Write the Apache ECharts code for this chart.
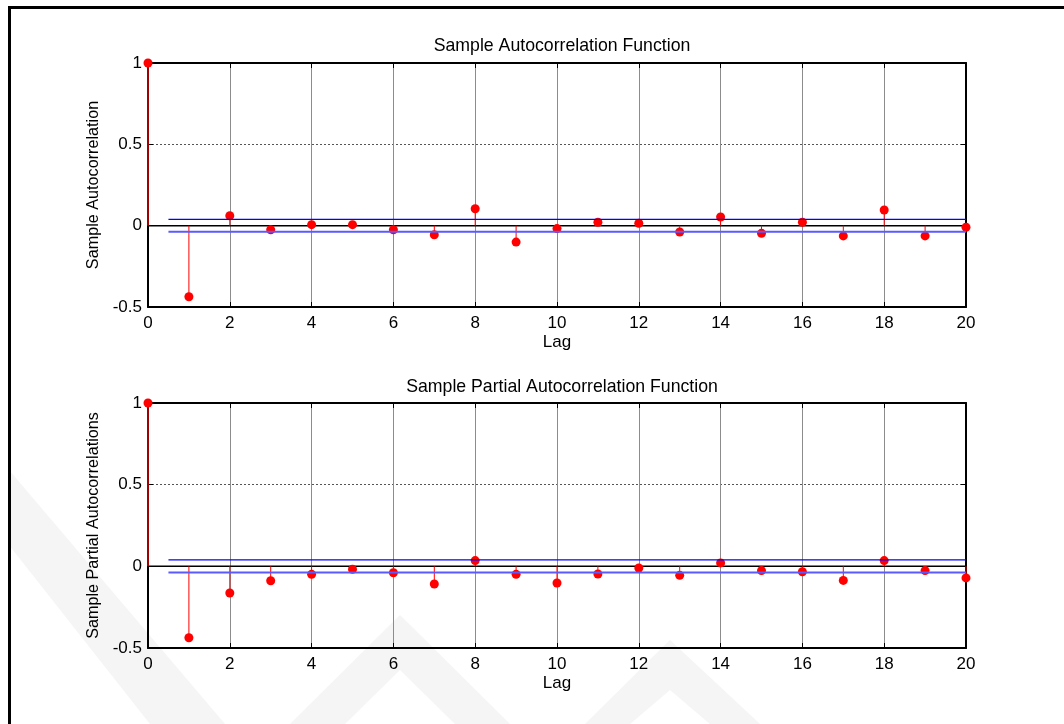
<!DOCTYPE html>
<html>
<head>
<meta charset="utf-8">
<title>ACF / PACF</title>
<script src="https://cdn.jsdelivr.net/npm/echarts@6/dist/echarts.min.js"></script>
<style>
  html, body { margin: 0; padding: 0; background: #fff; }
  #main { width: 1064px; height: 724px; }
</style>
</head>
<body>
<div id="main"></div>
<script>
var lags = [0, 1, 2, 3, 4, 5, 6, 7, 8, 9, 10, 11, 12, 13, 14, 15, 16, 17, 18, 19, 20];
var acf = [1, -0.437, 0.061, -0.025, 0.006, 0.006, -0.025, -0.056, 0.104, -0.101, -0.018,
           0.021, 0.015, -0.039, 0.053, -0.047, 0.021, -0.063, 0.096, -0.063, -0.010];
var pacf = [1, -0.437, -0.163, -0.088, -0.049, -0.018, -0.039, -0.108, 0.035, -0.049, -0.102,
            -0.047, -0.010, -0.055, 0.021, -0.026, -0.033, -0.086, 0.035, -0.026, -0.071];
var boundUp = 0.039;
var boundLo = -0.037;
var boundFrom = 0.5;
var boundTo = 20;
var baseLevel = 0;
var xMin = 0, xMax = 20, xStep = 2;
var yMin = -0.5, yMax = 1, yStep = 0.5;
var titles = ['Sample Autocorrelation Function', 'Sample Partial Autocorrelation Function'];
var yNames = ['Sample Autocorrelation', 'Sample Partial Autocorrelations'];

var FONT = '"Liberation Sans", Arial, sans-serif';
var myChart = echarts.init(document.getElementById('main'));

function pairs(vals) {
    var out = [];
    for (var i = 0; i < lags.length; i++) {
        out.push([lags[i], vals[i]]);
    }
    return out;
}

// stem line from 0 to the value, lag 0 drawn darker like matlab
function stemItem(params, api) {
    var x = api.value(0);
    var p0 = api.coord([x, baseLevel]);
    var p1 = api.coord([x, api.value(1)]);
    return {
        type: 'line',
        shape: { x1: p0[0], y1: p0[1], x2: p1[0], y2: p1[1] },
        style: { stroke: x == 0 ? '#a00000' : '#ff0000', lineWidth: x == 0 ? 2 : 1 }
    };
}

function axisX(grid, mirror) {
    return {
        type: 'value', gridIndex: grid, min: xMin, max: xMax, interval: xStep,
        position: mirror ? 'top' : 'bottom',
        name: mirror ? '' : 'Lag', nameLocation: 'middle', nameGap: 27,
        nameTextStyle: { color: '#000', fontSize: 17, fontFamily: FONT },
        axisLine: { show: true, onZero: false, lineStyle: { color: '#000', width: 2 } },
        axisTick: { show: true, inside: true, length: 5, lineStyle: { color: '#000' } },
        axisLabel: { show: !mirror, color: '#000', fontSize: 17, fontFamily: FONT, margin: 8 },
        splitLine: { show: !mirror, lineStyle: { color: '#8c8c8c', width: 1 } }
    };
}
function axisY(grid, mirror) {
    return {
        type: 'value', gridIndex: grid, min: yMin, max: yMax, interval: yStep,
        position: mirror ? 'right' : 'left',
        name: mirror ? '' : yNames[grid], nameLocation: 'middle', nameGap: 46,
        nameTextStyle: { color: '#000', fontSize: 16.2, fontFamily: FONT },
        axisLine: { show: true, onZero: false, lineStyle: { color: '#000', width: 2 } },
        axisTick: { show: true, inside: true, length: 5, lineStyle: { color: '#000' } },
        axisLabel: { show: !mirror, color: '#000', fontSize: 17, fontFamily: FONT, margin: 6 },
        splitLine: { show: !mirror, lineStyle: { color: '#555', width: 1, type: [2, 2] } }
    };
}

function plotSeries(idx, vals) {
    var xi = idx * 2, yi = idx * 2;
    return [
        {
            type: 'line', xAxisIndex: xi, yAxisIndex: yi,
            data: [[xMin, baseLevel], [xMax, baseLevel]], symbol: 'none',
            lineStyle: { color: '#000', width: 1.5, opacity: 1 }, z: 2, silent: true
        },
        {
            type: 'custom', xAxisIndex: xi, yAxisIndex: yi,
            renderItem: stemItem, data: pairs(vals), z: 3, silent: true
        },
        {
            type: 'scatter', xAxisIndex: xi, yAxisIndex: yi,
            data: pairs(vals), symbol: 'circle', symbolSize: 9,
            itemStyle: { color: '#ff0000', opacity: 1 }, z: 4, silent: true
        },
        {
            type: 'line', xAxisIndex: xi, yAxisIndex: yi,
            data: [[boundFrom, boundUp], [boundTo, boundUp]], symbol: 'none',
            lineStyle: { color: '#0000ff', width: 1.2, opacity: 1 }, z: 5, silent: true
        },
        {
            type: 'line', xAxisIndex: xi, yAxisIndex: yi,
            data: [[boundFrom, boundLo], [boundTo, boundLo]], symbol: 'none',
            lineStyle: { color: '#5a5aff', width: 2, opacity: 1 }, z: 5, silent: true
        }
    ];
}

// faint watermark in the lower left
var wm = '#f5f5f5';
var option = {
    backgroundColor: '#fff',
    animation: false,
    title: [
        { text: titles[0], left: 557, top: 32, textAlign: 'center',
          textStyle: { color: '#000', fontSize: 17.7, fontWeight: 'normal', fontFamily: FONT } },
        { text: titles[1], left: 557, top: 373, textAlign: 'center',
          textStyle: { color: '#000', fontSize: 17.7, fontWeight: 'normal', fontFamily: FONT } }
    ],
    graphic: [
        { type: 'polygon', z: -10, silent: true,
          shape: { points: [[9, 470], [9, 545], [150, 724], [225, 724]] }, style: { fill: wm } },
        { type: 'polygon', z: -10, silent: true,
          shape: { points: [[290, 724], [400, 615], [510, 724], [455, 724], [400, 670], [345, 724]] }, style: { fill: wm } },
        { type: 'polygon', z: -10, silent: true,
          shape: { points: [[585, 724], [670, 640], [760, 724], [710, 724], [670, 690], [630, 724]] }, style: { fill: wm } },
        { type: 'rect', z: 100, silent: true,
          shape: { x: 9.5, y: 7.5, width: 1200, height: 900 },
          style: { fill: 'none', stroke: '#000', lineWidth: 3 } }
    ],
    grid: [
        { left: 148, right: 98, top: 63, height: 244 },
        { left: 148, right: 98, top: 403, height: 245 }
    ],
    xAxis: [axisX(0, false), axisX(0, true), axisX(1, false), axisX(1, true)],
    yAxis: [axisY(0, false), axisY(0, true), axisY(1, false), axisY(1, true)],
    series: plotSeries(0, acf).concat(plotSeries(1, pacf))
};

myChart.setOption(option);
</script>
</body>
</html>
